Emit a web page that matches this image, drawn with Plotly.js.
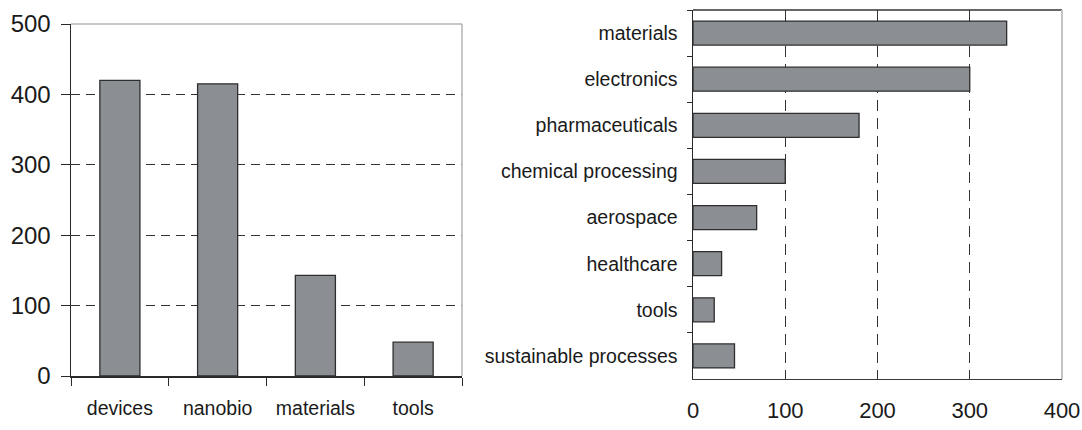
<!DOCTYPE html>
<html>
<head>
<meta charset="utf-8">
<script src="https://cdn.plot.ly/plotly-3.0.1.min.js"></script>
<style>html,body{margin:0;padding:0;background:#fff;}#chart{width:1082px;height:430px;}</style>
</head>
<body>
<div id="chart"></div>
<script>
// Left chart: area categories
const leftCategories = ["devices", "nanobio", "materials", "tools"];
const leftValues = [420, 415, 143, 48];
const leftTicks = [0, 100, 200, 300, 400, 500];

// Right chart: application sectors
const rightCategories = ["materials", "electronics", "pharmaceuticals", "chemical processing",
  "aerospace", "healthcare", "tools", "sustainable processes"];
const rightValues = [340, 300, 180, 100, 69, 31, 23, 45];
const rightTicks = [0, 100, 200, 300, 400];

const FONT = "'Liberation Sans', Arial, sans-serif";
const barFill = "#8b8e93";
const barLine = "#2e2e2e";
const TXT = "#1a1a1a";

const traces = [
  {
    type: "bar", x: leftCategories, y: leftValues, xaxis: "x", yaxis: "y",
    width: 0.41,
    marker: {color: barFill, line: {color: barLine, width: 1.3}},
    hoverinfo: "x+y"
  },
  {
    type: "bar", orientation: "h", x: rightValues, y: rightCategories, xaxis: "x2", yaxis: "y2",
    width: 0.52,
    marker: {color: barFill, line: {color: barLine, width: 1.3}},
    hoverinfo: "x+y"
  }
];

const W = 1082, H = 430;
const L = {x0: 71, x1: 462, y0: 24, y1: 376};
const R = {x0: 693, x1: 1062, y0: 10, y1: 379};

const layout = {
  width: W, height: H,
  margin: {l: 0, r: 0, t: 0, b: 0},
  paper_bgcolor: "#ffffff", plot_bgcolor: "#ffffff",
  showlegend: false,
  font: {family: FONT, color: TXT, size: 20},
  xaxis: {
    domain: [L.x0 / W, L.x1 / W], anchor: "y",
    type: "category", categoryorder: "array", categoryarray: leftCategories,
    showline: true, linecolor: "#2a2a2a", linewidth: 1.5,
    ticks: "outside", tickson: "boundaries", ticklen: 8, tickcolor: "#2a2a2a", tickwidth: 1,
    showgrid: false, ticklabelstandoff: 14, tickangle: 0,
    tickfont: {family: FONT, size: 19.5, color: TXT},
    fixedrange: true
  },
  yaxis: {
    domain: [1 - L.y1 / H, 1 - L.y0 / H], anchor: "x",
    range: [0, 500], tickvals: leftTicks,
    showline: true, linecolor: "#2a2a2a", linewidth: 1.5,
    ticks: "outside", ticklen: 9, tickcolor: "#2a2a2a", tickwidth: 1,
    showgrid: true, gridcolor: "#333333", gridwidth: 1.3, griddash: "9px,6px",
    zeroline: false, ticklabelstandoff: 5, ticklabeloverflow: "allow",
    tickfont: {family: FONT, size: 24, color: TXT},
    fixedrange: true
  },
  xaxis2: {
    domain: [R.x0 / W, R.x1 / W], anchor: "y2",
    range: [0, 400], tickvals: rightTicks,
    showline: true, linecolor: "#3a3a3a", linewidth: 1.2,
    ticks: "", showgrid: true, gridcolor: "#333333", gridwidth: 1.3, griddash: "11px,7px",
    zeroline: false, ticklabelstandoff: 11, tickangle: 0, ticklabeloverflow: "allow",
    tickfont: {family: FONT, size: 22, color: TXT},
    fixedrange: true
  },
  yaxis2: {
    domain: [1 - R.y1 / H, 1 - R.y0 / H], anchor: "x2",
    type: "category", categoryorder: "array", categoryarray: rightCategories,
    autorange: "reversed",
    showline: true, linecolor: "#2a2a2a", linewidth: 1.5,
    ticks: "outside", tickson: "boundaries", ticklen: 5, tickcolor: "#2a2a2a", tickwidth: 1,
    showgrid: false, ticklabelstandoff: 10,
    tickfont: {family: FONT, size: 19.5, color: TXT},
    fixedrange: true
  },
  shapes: [
    // left chart frame (top and right, light)
    {type: "line", xref: "x domain", yref: "y domain", x0: 0, x1: 1, y0: 1, y1: 1, line: {color: "#b5b5b5", width: 1.5}, layer: "above"},
    {type: "line", xref: "x domain", yref: "y domain", x0: 1, x1: 1, y0: 0, y1: 1, line: {color: "#b5b5b5", width: 1.5}, layer: "above"},
    // right chart frame (top dark, right light)
    {type: "line", xref: "x2 domain", yref: "y2 domain", x0: 0, x1: 1, y0: 1, y1: 1, line: {color: "#333333", width: 1.5}, layer: "above"},
    {type: "line", xref: "x2 domain", yref: "y2 domain", x0: 1, x1: 1, y0: 0, y1: 1, line: {color: "#c4c4c4", width: 2}, layer: "above"}
  ]
};

Plotly.newPlot("chart", traces, layout, {displayModeBar: false, staticPlot: true});
</script>
</body>
</html>
